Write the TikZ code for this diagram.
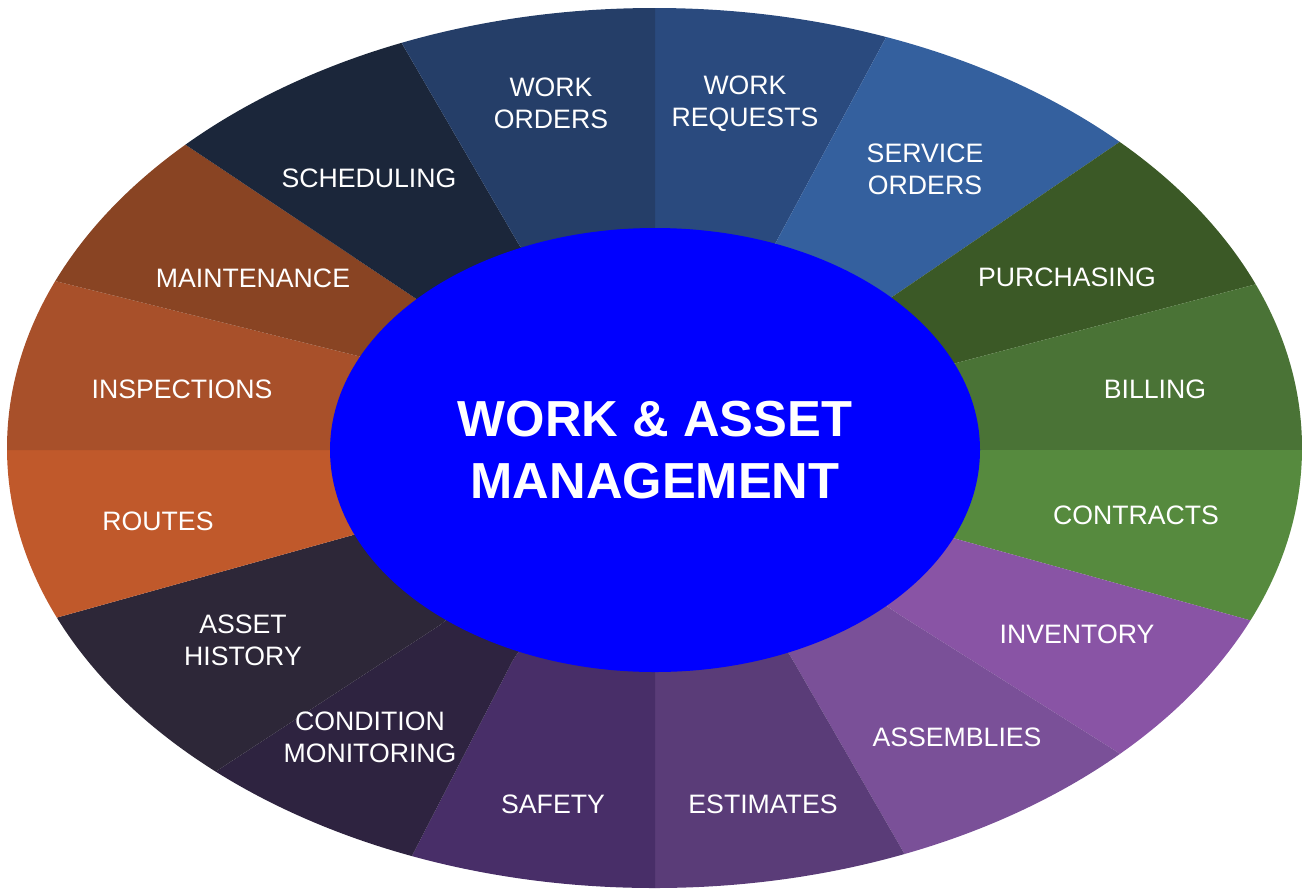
\documentclass[tikz,border=0pt]{standalone}
\usepackage{fontspec}
\setmainfont{Liberation Sans}
\usetikzlibrary{calc,shapes.geometric}
\definecolor{corWO}{RGB}{37,62,104}
\definecolor{corWR}{RGB}{42,74,126}
\definecolor{corSO}{RGB}{52,96,158}
\definecolor{corPU}{RGB}{59,89,38}
\definecolor{corBI}{RGB}{74,115,54}
\definecolor{corCO}{RGB}{86,138,62}
\definecolor{corIN}{RGB}{137,84,165}
\definecolor{corAS}{RGB}{122,80,152}
\definecolor{corES}{RGB}{90,60,120}
\definecolor{corSA}{RGB}{72,46,104}
\definecolor{corCM}{RGB}{46,35,64}
\definecolor{corAH}{RGB}{45,39,56}
\definecolor{corRO}{RGB}{192,89,43}
\definecolor{corIS}{RGB}{168,80,42}
\definecolor{corMA}{RGB}{137,68,35}
\definecolor{corSC}{RGB}{27,38,58}
\definecolor{azulforte}{RGB}{0,0,255}
\tikzset{%
  fatia/.style={fill=#1},
  rotulo/.style={text=white,font=\fontsize{20}{24}\selectfont,align=center,inner sep=0pt},
  nucleo/.style={ellipse,fill=azulforte,text=white,font=\fontsize{38}{46.5}\selectfont\bfseries,align=center,inner sep=0pt,minimum width=487.5pt,minimum height=333pt}
}

\begin{document}
\begin{tikzpicture}[x=0.75pt,y=-0.75pt]
    \useasboundingbox (0,0) rectangle (1302,890);
    \coordinate (centro) at (655,450);
    % limites entre as fatias (ponto interno / ponto externo)
    \foreach \n/\ix/\iy/\ox/\oy in {1/655/240/655/8, 2/775/244/883/43, 3/895/295/1118/143,
      4/960/362/1253/285, 5/980/450/1302/450, 6/960/540/1249/620, 7/900/615/1130/760,
      8/791/657/904/853, 9/655/672/655/890, 10/513/660/415/850, 11/440/625/215/772,
      12/353/535/59/617, 13/330/450/7/450, 14/366/358/59/282, 15/415/298/189/147,
      16/518/243/404/47}
    {
      \coordinate (i\n) at (\ix,\iy);
      \coordinate (o\n) at ($(\ix,\iy)!3!(\ox,\oy)$);
    }
    \begin{scope}
      \clip (654.5,448) ellipse [x radius=647.5, y radius=440];
      \foreach \a/\b/\cor in {1/2/corWR, 2/3/corSO, 3/4/corPU, 4/5/corBI, 5/6/corCO,
        6/7/corIN, 7/8/corAS, 8/9/corES, 9/10/corSA, 10/11/corCM, 11/12/corAH,
        12/13/corRO, 13/14/corIS, 14/15/corMA, 15/16/corSC, 16/1/corWO}
        \fill[fatia=\cor] (centro) -- (i\a) -- (o\a) -- (o\b) -- (i\b) -- cycle;
    \end{scope}
    \node[nucleo] (gestao) at (centro) {WORK \& ASSET\\MANAGEMENT};
    % rotulos
    \node[rotulo] (ordens) at (551,103) {WORK\\ORDERS};
    \node[rotulo] (pedidos) at (745,104) {WORK\\REQUESTS};
    \node[rotulo] (servico) at (925,169) {SERVICE\\ORDERS};
    \node[rotulo] (compras) at (1067,277) {PURCHASING};
    \node[rotulo] (faturas) at (1155,389) {BILLING};
    \node[rotulo] (contratos) at (1136,515) {CONTRACTS};
    \node[rotulo] (estoque) at (1077,634) {INVENTORY};
    \node[rotulo] (conjuntos) at (957,737) {ASSEMBLIES};
    \node[rotulo] (estimativas) at (763,804) {ESTIMATES};
    \node[rotulo] (seguranca) at (553,804) {SAFETY};
    \node[rotulo] (condicao) at (370,737) {CONDITION\\MONITORING};
    \node[rotulo] (historico) at (243,640) {ASSET\\HISTORY};
    \node[rotulo] (rotas) at (158,521) {ROUTES};
    \node[rotulo] (inspecoes) at (182,389) {INSPECTIONS};
    \node[rotulo] (manutencao) at (253,278) {MAINTENANCE};
    \node[rotulo] (agenda) at (369,178) {SCHEDULING};
  \end{tikzpicture}
\end{document}
